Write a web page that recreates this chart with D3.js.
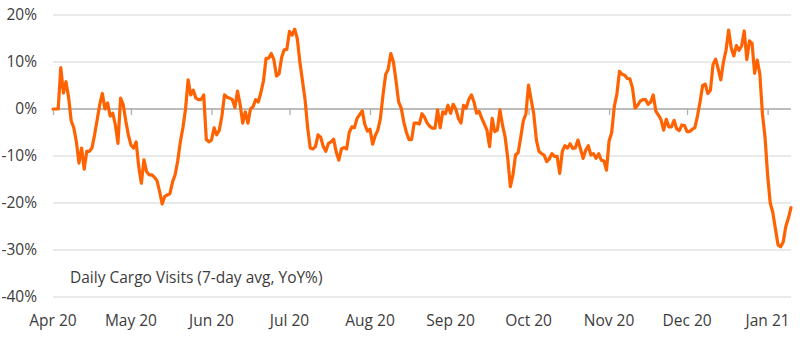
<!DOCTYPE html>
<html>
<head>
<meta charset="utf-8">
<script src="https://cdn.jsdelivr.net/npm/d3@7"></script>
<style>
  html, body { margin: 0; padding: 0; background: #fff; }
  svg text { font-family: "Open Sans", Lato, sans-serif; fill: #3c3c3c; }
</style>
</head>
<body>
<svg id="chart" width="800" height="337"></svg>
<script>
// Daily cargo visits, 7-day average, YoY % change — one value per day from 1 Apr 2020
const startDate = "2020-04-01";
const yoyValues = [
  0, 0, 0, 8.8, 3.4, 5.8, 2.5, -2.5, -4, -7,
  -11.5, -8.3, -12.8, -9, -9, -8.3, -5.5, -2.3, 1, 3.3,
  0, 1.3, -1.5, -0.9, -3.4, -7.3, 2.3, 1, -2.5, -5.5,
  -7.7, -8.3, -7, -12.3, -15.8, -10.8, -13.3, -14, -14, -14.5,
  -15.2, -17.5, -20.2, -18.6, -18.3, -18, -15.5, -14, -11, -7,
  -4, 0, 6.2, 3, 4, 2.3, 2, 2, 3, -6.5,
  -7, -6.6, -4, -5.5, -4.5, -1.5, 3, 2.5, 2.3, 2,
  0.3, 3.8, 1, -3, -0.6, -3, 0, 0.5, 2, 1.5,
  3.5, 6, 10.8, 10.8, 11.8, 10.5, 7, 7.5, 11, 12.6,
  12.7, 16.5, 15.7, 17, 15, 10, 6, 2, -4, -8.3,
  -8.5, -8, -5.5, -6, -8, -9, -7.3, -7, -6.4, -9.2,
  -10.9, -8.5, -8.2, -8.5, -5, -3.8, -4, -2, -1.2, -0.4,
  -3.3, -4.7, -4.3, -7.5, -5.7, -4.5, -2, 3, 7.3, 8.5,
  11.8, 10, 6, 1.5, 0.2, -2.8, -5, -6.5, -6.5, -3,
  -3, -3.2, -1, -1.8, -3, -3.7, -4.1, -4.1, -0.2, -4,
  -0.6, -1, 0.8, -0.9, 1, 0, -2, -3, 0.8, 0.2,
  2, 3, 1.5, -0.9, -0.5, -2, -3.2, -4.5, -8, -2,
  -4.8, -4.5, -0.2, -3.5, -6, -10.5, -16.5, -14, -9.8, -9.3,
  -6, -2.5, -1, 5.1, 2, -1, -6.5, -9, -9.5, -9.8,
  -11.2, -10.6, -9.5, -10.1, -10.1, -13.7, -9, -7.8, -8.3, -7.4,
  -8.4, -8.3, -6.6, -8.5, -10.5, -8.8, -7.8, -9.8, -9.5, -10.5,
  -9.5, -10.9, -11, -13, -6.8, -5, 0.5, 3.2, 8, 7.4,
  7.2, 6.5, 6.4, 4.5, 0.2, 0.8, 1.7, 2, 2, 1,
  1.5, 3, -0.5, -1.3, -2.3, -4.5, -2.2, -3.8, -3.8, -2.4,
  -4.2, -4.6, -3.4, -3.5, -4.8, -4.8, -4.3, -4, -1.5, 1.5,
  5, 5.3, 3.3, 4, 9.5, 10.6, 8.5, 6.2, 10, 12.5,
  16.8, 13, 11.3, 13.5, 12.5, 13.4, 16.6, 10.5, 14.5, 14,
  7.6, 10.4, 7.5, -1, -6, -14, -20, -22, -25.5, -28.9,
  -29.3, -28.3, -25, -23.2, -21
];

// Axis ticks and labels
const yTicks = [20, 10, 0, -10, -20, -30, -40];
const monthTicks = ["2020-04-01", "2020-05-01", "2020-06-01", "2020-07-01", "2020-08-01",
                    "2020-09-01", "2020-10-01", "2020-11-01", "2020-12-01", "2021-01-01"];
const monthLabels = ["Apr 20", "May 20", "Jun 20", "Jul 20", "Aug 20",
                     "Sep 20", "Oct 20", "Nov 20", "Dec 20", "Jan 21"];
const seriesTitle = "Daily Cargo Visits (7-day avg, YoY%)";

const parse = d3.utcParse("%Y-%m-%d");
const start = parse(startDate);
const series = yoyValues.map((v, i) => ({ date: d3.utcDay.offset(start, i), value: v }));

const svg = d3.select("#chart");
const margin = { left: 53, right: 9, top: 15, bottom: 40 };
const width = 800, height = 337;
const fontSize = 15.5;

const x = d3.scaleUtc()
  .domain([start, series[series.length - 1].date])
  .range([margin.left, width - margin.right]);
const y = d3.scaleLinear()
  .domain([-40, 20])
  .range([height - margin.bottom, margin.top]);

// Horizontal gridlines
svg.append("g")
  .selectAll("line")
  .data(yTicks.filter(t => t !== 0))
  .join("line")
  .attr("x1", margin.left).attr("x2", width - margin.right)
  .attr("y1", d => y(d)).attr("y2", d => y(d))
  .attr("stroke", "#e3e3e3").attr("stroke-width", 1.3);

// Y labels
svg.append("g")
  .selectAll("text")
  .data(yTicks)
  .join("text")
  .attr("x", 37)
  .attr("y", d => y(d))
  .attr("dy", "0.35em")
  .attr("text-anchor", "end")
  .attr("font-size", fontSize)
  .text(d => d + "%");

// Zero baseline with month ticks
const zeroAxis = d3.axisBottom(x)
  .tickValues(monthTicks.map(parse))
  .tickSize(6)
  .tickFormat("");
const zg = svg.append("g")
  .attr("transform", `translate(0,${y(0)})`)
  .call(zeroAxis);
zg.select(".domain").attr("stroke", "#a6a6a6").attr("stroke-width", 1.3)
  .attr("d", `M${margin.left},0H${width - margin.right}`);
zg.selectAll(".tick line").attr("stroke", "#b0b0b0").attr("stroke-width", 1.3);

// Month labels along the bottom
svg.append("g")
  .selectAll("text")
  .data(monthTicks)
  .join("text")
  .attr("x", (d) => x(parse(d)))
  .attr("y", 326)
  .attr("text-anchor", "middle")
  .attr("font-size", fontSize)
  .text((d, i) => monthLabels[i]);

// Series title
svg.append("text")
  .attr("x", 70)
  .attr("y", 283)
  .attr("font-size", fontSize)
  .text(seriesTitle);

// The line
const line = d3.line()
  .x(d => x(d.date))
  .y(d => y(d.value));
svg.append("path")
  .datum(series)
  .attr("fill", "none")
  .attr("stroke", "#ff6200")
  .attr("stroke-width", 3.2)
  .attr("stroke-linejoin", "round")
  .attr("stroke-linecap", "round")
  .attr("d", line);
</script>
</body>
</html>
